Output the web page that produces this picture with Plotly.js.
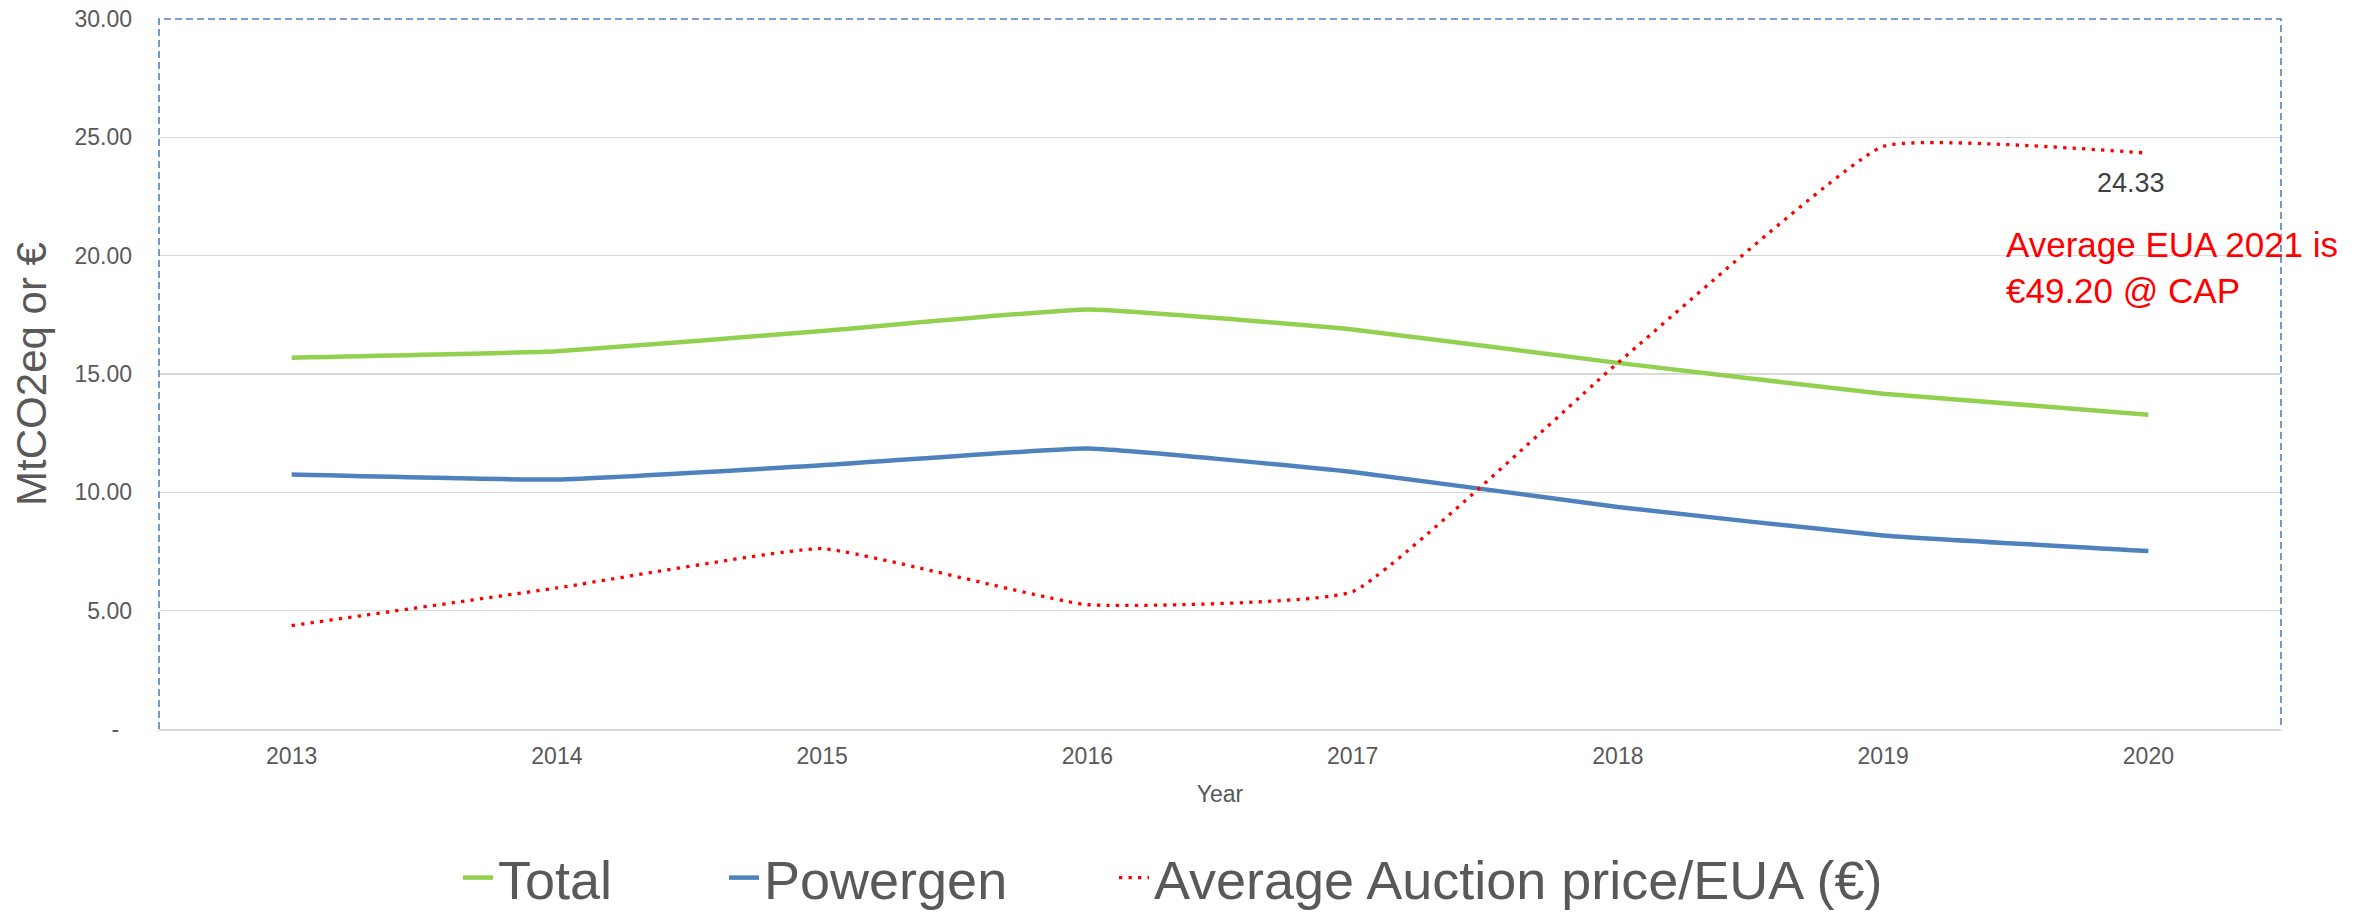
<!DOCTYPE html>
<html>
<head>
<meta charset="utf-8">
<script src="https://cdn.plot.ly/plotly-3.0.1.min.js"></script>
<style>html,body{margin:0;padding:0;background:#fff;}#chart{width:2374px;height:912px;}</style>
</head>
<body>
<div id="chart"></div>
<script>
// ---- data ----
var years = ['2013', '2014', '2015', '2016', '2017', '2018', '2019', '2020'];
var totalValues = [15.69, 15.96, 16.82, 17.73, 16.88, 15.47, 14.17, 13.28];
var powergenValues = [10.75, 10.54, 11.14, 11.85, 10.86, 9.38, 8.18, 7.52];
var auctionValues = [4.37, 5.96, 7.62, 5.25, 5.80, 15.47, 24.62, 24.33];
var seriesNames = ['Total', 'Powergen', 'Average Auction price/EUA (\u20ac)'];
var yTickVals = [0, 5, 10, 15, 20, 25, 30];
var yTickText = ['-\u00a0\u00a0', '5.00', '10.00', '15.00', '20.00', '25.00', '30.00'];
var noteText = 'Average EUA 2021 is<br>\u20ac49.20 @ CAP';

var FONT = 'Liberation Sans, Arial, Helvetica, sans-serif';
var GREY = '#595959';
var SMOOTH = 0.35;

var lastIdx = auctionValues.length - 1;

var traces = [
  {
    x: years, y: totalValues, name: seriesNames[0], type: 'scatter', mode: 'lines',
    line: {color: '#92D050', width: 4.5, shape: 'spline', smoothing: SMOOTH},
    legend: 'legend'
  },
  {
    x: years, y: powergenValues, name: seriesNames[1], type: 'scatter', mode: 'lines',
    line: {color: '#4F81BD', width: 4.5, shape: 'spline', smoothing: SMOOTH},
    legend: 'legend2'
  },
  {
    x: years, y: auctionValues, name: seriesNames[2], type: 'scatter', mode: 'lines',
    line: {color: '#FF0000', width: 3.3, dash: '3.3px,6.2px', shape: 'spline', smoothing: SMOOTH},
    legend: 'legend3'
  }
];

function legendAt(px) {
  return {
    orientation: 'h', xref: 'container', yref: 'container',
    x: px / 2374, xanchor: 'left', y: 1 - 878 / 912, yanchor: 'middle',
    bgcolor: 'rgba(0,0,0,0)', borderwidth: 0,
    font: {family: FONT, size: 54, color: GREY}
  };
}

var layout = {
  width: 2374, height: 912,
  margin: {l: 159, r: 93, t: 19, b: 183, pad: 0},
  paper_bgcolor: '#ffffff', plot_bgcolor: '#ffffff',
  font: {family: FONT, color: GREY},
  showlegend: true,
  legend: legendAt(458),
  legend2: legendAt(724),
  legend3: legendAt(1114),
  xaxis: {
    type: 'category', categoryorder: 'array', categoryarray: years,
    range: [-0.5, years.length - 0.5],
    showgrid: false, zeroline: false,
    showline: true, linecolor: '#D9D9D9', linewidth: 2,
    ticks: '', ticklabelstandoff: 5,
    tickfont: {family: FONT, size: 23, color: GREY},
    title: {text: 'Year', font: {family: FONT, size: 23, color: GREY}, standoff: 18},
    automargin: false, fixedrange: true
  },
  yaxis: {
    range: [0, 30], tickmode: 'array', tickvals: yTickVals, ticktext: yTickText,
    showgrid: true, gridcolor: '#D9D9D9', gridwidth: 1.5,
    zeroline: false, showline: false, ticks: '', ticklabelstandoff: 26,
    tickfont: {family: FONT, size: 23, color: GREY},
    title: {text: 'MtCO2eq or \u20ac', font: {family: FONT, size: 42, color: GREY}, standoff: 14},
    automargin: false, fixedrange: true
  },
  shapes: [
    {
      type: 'path', xref: 'paper', yref: 'paper',
      path: 'M0,0 L0,1 L1,1 L1,0',
      line: {color: '#4F81BD', width: 1.6, dash: '7px,4px'},
      fillcolor: 'rgba(0,0,0,0)', layer: 'above'
    }
  ],
  annotations: [
    {
      text: auctionValues[lastIdx].toFixed(2), xref: 'x', yref: 'y',
      x: lastIdx, y: auctionValues[lastIdx],
      xanchor: 'center', yanchor: 'middle', xshift: -17, yshift: -30,
      showarrow: false,
      font: {family: FONT, size: 27, color: '#404040'}
    },
    {
      text: noteText, xref: 'paper', yref: 'y',
      x: (2004 - 159) / 2122, y: 19.5, xanchor: 'left', yanchor: 'middle',
      align: 'left', showarrow: false,
      font: {family: FONT, size: 35, color: '#FF0000'}
    }
  ]
};

Plotly.newPlot('chart', traces, layout, {displayModeBar: false, staticPlot: true});
</script>
</body>
</html>
